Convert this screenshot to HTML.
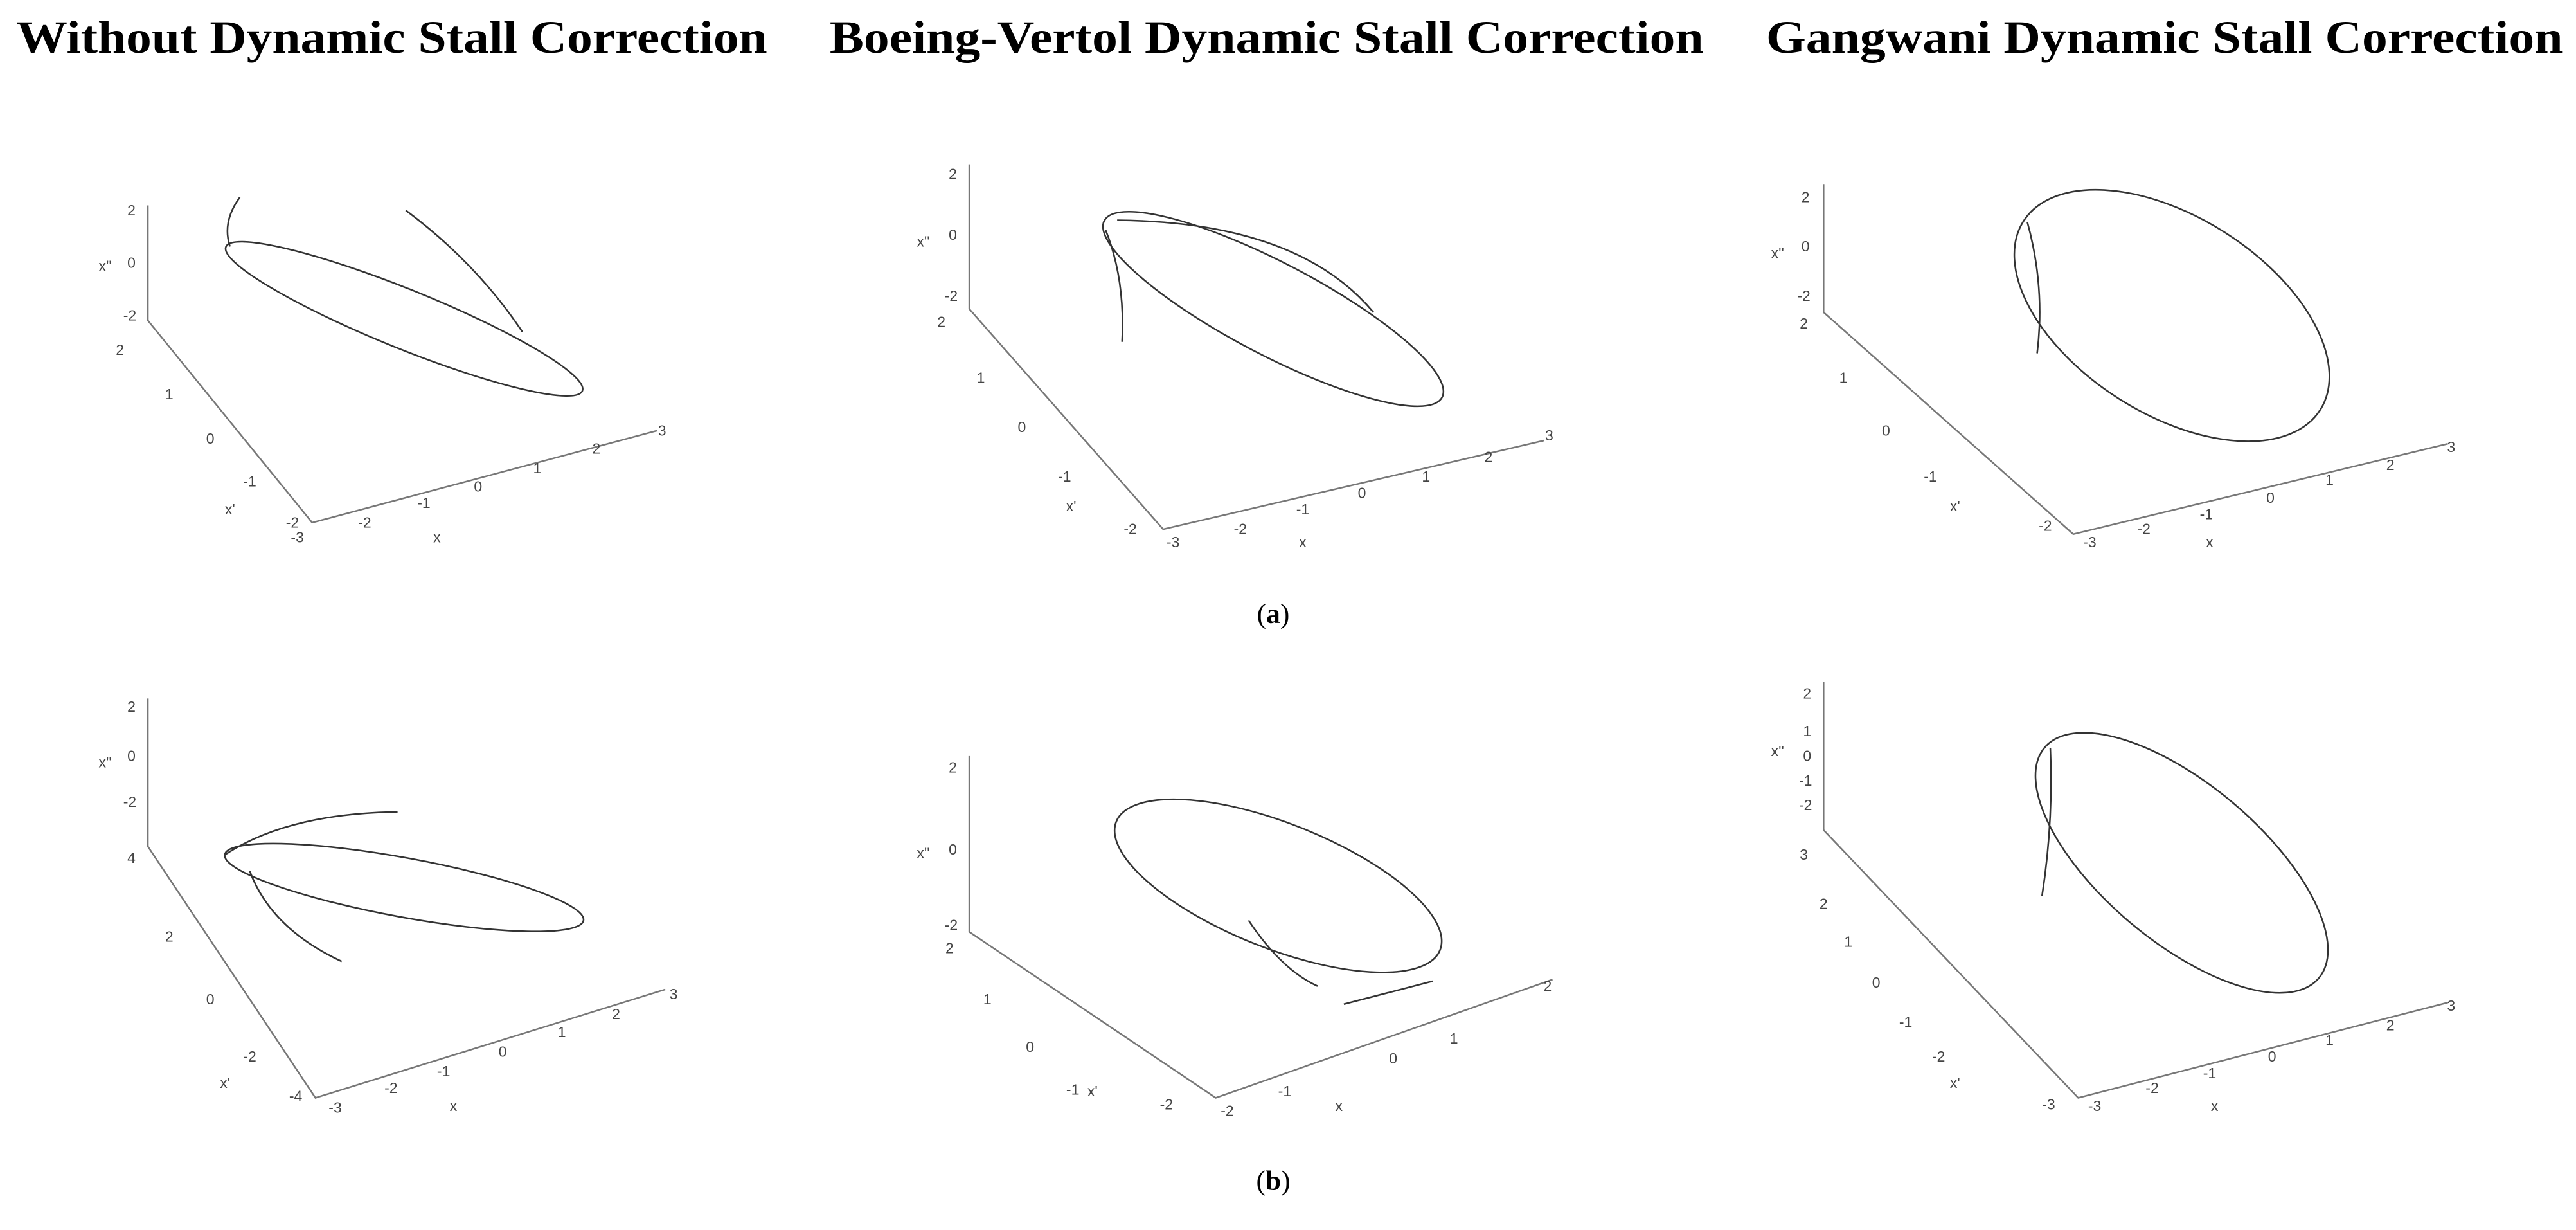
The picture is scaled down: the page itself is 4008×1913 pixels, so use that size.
<!DOCTYPE html>
<html><head><meta charset="utf-8"><style>
html,body{margin:0;padding:0;background:#fff}
svg{display:block}
.t{font-family:"Liberation Serif",serif;font-weight:bold;font-size:28px;fill:#000}
.l{font-family:"Liberation Sans",sans-serif;font-size:9px;fill:#444;text-anchor:middle}
.ax{stroke:#777;stroke-width:1;fill:none}
.c{stroke:#333;stroke-width:1;fill:none}
.p{font-family:"Liberation Serif",serif;font-size:17px;fill:#000;text-anchor:middle}
</style></head><body>
<svg width="4008" height="1913" viewBox="0 0 1568 748.4" preserveAspectRatio="none">
<text class="t" x="10" y="32" textLength="457" lengthAdjust="spacingAndGlyphs">Without Dynamic Stall Correction</text>
<text class="t" x="505" y="32" textLength="532" lengthAdjust="spacingAndGlyphs">Boeing-Vertol Dynamic Stall Correction</text>
<text class="t" x="1075" y="32" textLength="485" lengthAdjust="spacingAndGlyphs">Gangwani Dynamic Stall Correction</text>

<!-- (a) plot 1 -->
<path class="ax" d="M90 125 V195 L190 318 L400 262"/>
<text class="l" x="80" y="131">2</text><text class="l" x="80" y="163">0</text><text class="l" x="79" y="195">-2</text>
<text class="l" x="64" y="165">x''</text>
<text class="l" x="73" y="216">2</text><text class="l" x="103" y="243">1</text><text class="l" x="128" y="270">0</text><text class="l" x="152" y="296">-1</text><text class="l" x="178" y="321">-2</text><text class="l" x="140" y="313">x'</text>
<text class="l" x="181" y="330">-3</text><text class="l" x="222" y="321">-2</text><text class="l" x="258" y="309">-1</text><text class="l" x="291" y="299">0</text><text class="l" x="327" y="288">1</text><text class="l" x="363" y="276">2</text><text class="l" x="403" y="265">3</text><text class="l" x="266" y="330">x</text>
<ellipse class="c" cx="246" cy="194" rx="117" ry="18" transform="rotate(22 246 194)"/>
<path class="c" d="M146 120 Q135 135 140 150"/>
<path class="c" d="M247 128 Q290 160 318 202"/>

<!-- (a) plot 2 -->
<path class="ax" d="M590 100 V188 L708 322 L940 268"/>
<text class="l" x="580" y="109">2</text><text class="l" x="580" y="146">0</text><text class="l" x="579" y="183">-2</text>
<text class="l" x="562" y="150">x''</text>
<text class="l" x="573" y="199">2</text><text class="l" x="597" y="233">1</text><text class="l" x="622" y="263">0</text><text class="l" x="648" y="293">-1</text><text class="l" x="688" y="325">-2</text><text class="l" x="652" y="311">x'</text>
<text class="l" x="714" y="333">-3</text><text class="l" x="755" y="325">-2</text><text class="l" x="793" y="313">-1</text><text class="l" x="829" y="303">0</text><text class="l" x="868" y="293">1</text><text class="l" x="906" y="281">2</text><text class="l" x="943" y="268">3</text><text class="l" x="793" y="333">x</text>
<ellipse class="c" cx="775" cy="188" rx="116" ry="28" transform="rotate(27.6 775 188)"/>
<path class="c" d="M680 134 Q790 135 836 190"/>
<path class="c" d="M673 140 Q685 170 683 208"/>

<!-- (a) plot 3 -->
<path class="ax" d="M1110 112 V190 L1262 325 L1490 270"/>
<text class="l" x="1099" y="123">2</text><text class="l" x="1099" y="153">0</text><text class="l" x="1098" y="183">-2</text>
<text class="l" x="1082" y="157">x''</text>
<text class="l" x="1098" y="200">2</text><text class="l" x="1122" y="233">1</text><text class="l" x="1148" y="265">0</text><text class="l" x="1175" y="293">-1</text><text class="l" x="1245" y="323">-2</text><text class="l" x="1190" y="311">x'</text>
<text class="l" x="1272" y="333">-3</text><text class="l" x="1305" y="325">-2</text><text class="l" x="1343" y="316">-1</text><text class="l" x="1382" y="306">0</text><text class="l" x="1418" y="295">1</text><text class="l" x="1455" y="286">2</text><text class="l" x="1492" y="275">3</text><text class="l" x="1345" y="333">x</text>
<ellipse class="c" cx="1322" cy="192" rx="107" ry="60" transform="rotate(32.4 1322 192)"/>
<path class="c" d="M1234 135 Q1245 175 1240 215"/>

<text class="p" x="775" y="379">(<tspan font-weight="bold">a</tspan>)</text>

<!-- (b) plot 1 -->
<path class="ax" d="M90 425 V515 L192 668 L405 602"/>
<text class="l" x="80" y="433">2</text><text class="l" x="80" y="463">0</text><text class="l" x="79" y="491">-2</text>
<text class="l" x="64" y="467">x''</text>
<text class="l" x="80" y="525">4</text><text class="l" x="103" y="573">2</text><text class="l" x="128" y="611">0</text><text class="l" x="152" y="646">-2</text><text class="l" x="180" y="670">-4</text><text class="l" x="137" y="662">x'</text>
<text class="l" x="204" y="677">-3</text><text class="l" x="238" y="665">-2</text><text class="l" x="270" y="655">-1</text><text class="l" x="306" y="643">0</text><text class="l" x="342" y="631">1</text><text class="l" x="375" y="620">2</text><text class="l" x="410" y="608">3</text><text class="l" x="276" y="676">x</text>
<ellipse class="c" cx="246" cy="540" rx="111" ry="18" transform="rotate(10.4 246 540)"/>
<path class="c" d="M137 520 Q175 495 242 494"/>
<path class="c" d="M152 530 Q165 565 208 585"/>

<!-- (b) plot 2 -->
<path class="ax" d="M590 460 V567 L740 668 L945 596"/>
<text class="l" x="580" y="470">2</text><text class="l" x="580" y="520">0</text><text class="l" x="579" y="566">-2</text>
<text class="l" x="562" y="522">x''</text>
<text class="l" x="578" y="580">2</text><text class="l" x="601" y="611">1</text><text class="l" x="627" y="640">0</text><text class="l" x="653" y="666">-1</text><text class="l" x="710" y="675">-2</text><text class="l" x="665" y="667">x'</text>
<text class="l" x="747" y="679">-2</text><text class="l" x="782" y="667">-1</text><text class="l" x="848" y="647">0</text><text class="l" x="885" y="635">1</text><text class="l" x="942" y="603">2</text><text class="l" x="815" y="676">x</text>
<ellipse class="c" cx="778" cy="539" rx="106" ry="38" transform="rotate(21.6 778 539)"/>
<path class="c" d="M760 560 Q780 590 802 600"/>
<path class="c" d="M818 611 Q860 600 872 597"/>

<!-- (b) plot 3 -->
<path class="ax" d="M1110 415 V505 L1265 668 L1490 610"/>
<text class="l" x="1100" y="425">2</text><text class="l" x="1100" y="448">1</text><text class="l" x="1100" y="463">0</text><text class="l" x="1099" y="478">-1</text><text class="l" x="1099" y="493">-2</text>
<text class="l" x="1082" y="460">x''</text>
<text class="l" x="1098" y="523">3</text><text class="l" x="1110" y="553">2</text><text class="l" x="1125" y="576">1</text><text class="l" x="1142" y="601">0</text><text class="l" x="1160" y="625">-1</text><text class="l" x="1180" y="646">-2</text><text class="l" x="1247" y="675">-3</text><text class="l" x="1190" y="662">x'</text>
<text class="l" x="1275" y="676">-3</text><text class="l" x="1310" y="665">-2</text><text class="l" x="1345" y="656">-1</text><text class="l" x="1383" y="646">0</text><text class="l" x="1418" y="636">1</text><text class="l" x="1455" y="627">2</text><text class="l" x="1492" y="615">3</text><text class="l" x="1348" y="676">x</text>
<ellipse class="c" cx="1328" cy="525" rx="109" ry="48" transform="rotate(40 1328 525)"/>
<path class="c" d="M1248 455 Q1250 500 1243 545"/>

<text class="p" x="775" y="724">(<tspan font-weight="bold">b</tspan>)</text>
</svg>
</body></html>
